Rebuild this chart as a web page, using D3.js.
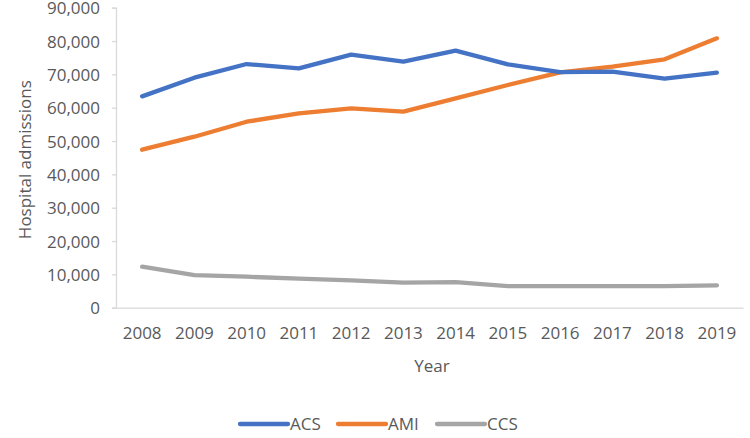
<!DOCTYPE html>
<html>
<head>
<meta charset="utf-8">
<script src="https://cdn.jsdelivr.net/npm/d3@7"></script>
<style>
  html, body { margin: 0; padding: 0; background: #fff; }
  svg { display: block; }
  text { font-family: "Open Sans", "Noto Sans", sans-serif; fill: #595959; }
</style>
</head>
<body>
<svg id="chart" width="750" height="438"></svg>
<script>
const years = ["2008","2009","2010","2011","2012","2013","2014","2015","2016","2017","2018","2019"];
const acs = [63400, 69000, 73100, 71800, 75900, 73800, 77100, 73000, 70700, 70800, 68700, 70500];
const ami = [47400, 51300, 55800, 58300, 59800, 58800, 62800, 66800, 70600, 72300, 74500, 80800];
const ccs = [12300, 9800, 9300, 8700, 8200, 7500, 7700, 6500, 6500, 6500, 6500, 6700];
const seriesNames = ["ACS", "AMI", "CCS"];
const seriesColors = ["#4472C4", "#ED7D31", "#A5A5A5"];
const yTicks = [0, 10000, 20000, 30000, 40000, 50000, 60000, 70000, 80000, 90000];

const svg = d3.select("#chart");
const plotL = 116, plotR = 743, plotT = 7.7, plotB = 307.7;

const x = d3.scaleBand().domain(years).range([plotL, plotR]);
const y = d3.scaleLinear().domain([0, 90000]).range([plotB, plotT]);

// Y axis
const yAxis = d3.axisLeft(y).tickValues(yTicks).tickFormat(d3.format(",")).tickSize(4).tickPadding(12);
const gy = svg.append("g").attr("transform", `translate(${plotL},0)`).call(yAxis);
gy.select(".domain").attr("stroke", "#d9d9d9").attr("stroke-width", 1.3);
gy.selectAll(".tick line").attr("stroke", "#d9d9d9").attr("stroke-width", 1.3);
gy.selectAll(".tick text").style("font-size", "17px").attr("fill", "#595959").attr("dy", "0.36em");

// X axis
const xAxis = d3.axisBottom(x).tickSize(0).tickPadding(19);
const gx = svg.append("g").attr("transform", `translate(0,${plotB})`).call(xAxis);
gx.select(".domain").attr("stroke", "#d9d9d9").attr("stroke-width", 1.3);
gx.selectAll(".tick text").style("font-size", "17px").attr("fill", "#595959");

// Axis titles
svg.append("text")
  .attr("transform", `translate(31,${(plotT + plotB) / 2 + 2}) rotate(-90)`)
  .attr("text-anchor", "middle")
  .style("font-size", "17px")
  .text("Hospital admissions");
svg.append("text")
  .attr("x", 432).attr("y", 372)
  .attr("text-anchor", "middle")
  .style("font-size", "17px")
  .text("Year");

// Lines
const all = [acs, ami, ccs];
const line = d3.line()
  .x((d, i) => x(years[i]) + x.bandwidth() / 2)
  .y(d => y(d));
all.slice().reverse().forEach((vals, k) => {
  const idx = all.length - 1 - k;
  svg.append("path")
    .datum(vals)
    .attr("fill", "none")
    .attr("stroke", seriesColors[idx])
    .attr("stroke-width", 4.3)
    .attr("stroke-linejoin", "round")
    .attr("stroke-linecap", "round")
    .attr("d", line);
});

// Legend
const legendX = [240, 338, 437];
const lg = svg.append("g");
seriesNames.forEach((name, i) => {
  lg.append("line")
    .attr("x1", legendX[i]).attr("x2", legendX[i] + 48)
    .attr("y1", 424).attr("y2", 424)
    .attr("stroke", seriesColors[i]).attr("stroke-width", 4.3)
    .attr("stroke-linecap", "round");
  lg.append("text")
    .attr("x", legendX[i] + 50).attr("y", 430)
    .style("font-size", "17px")
    .text(name);
});
</script>
</body>
</html>
